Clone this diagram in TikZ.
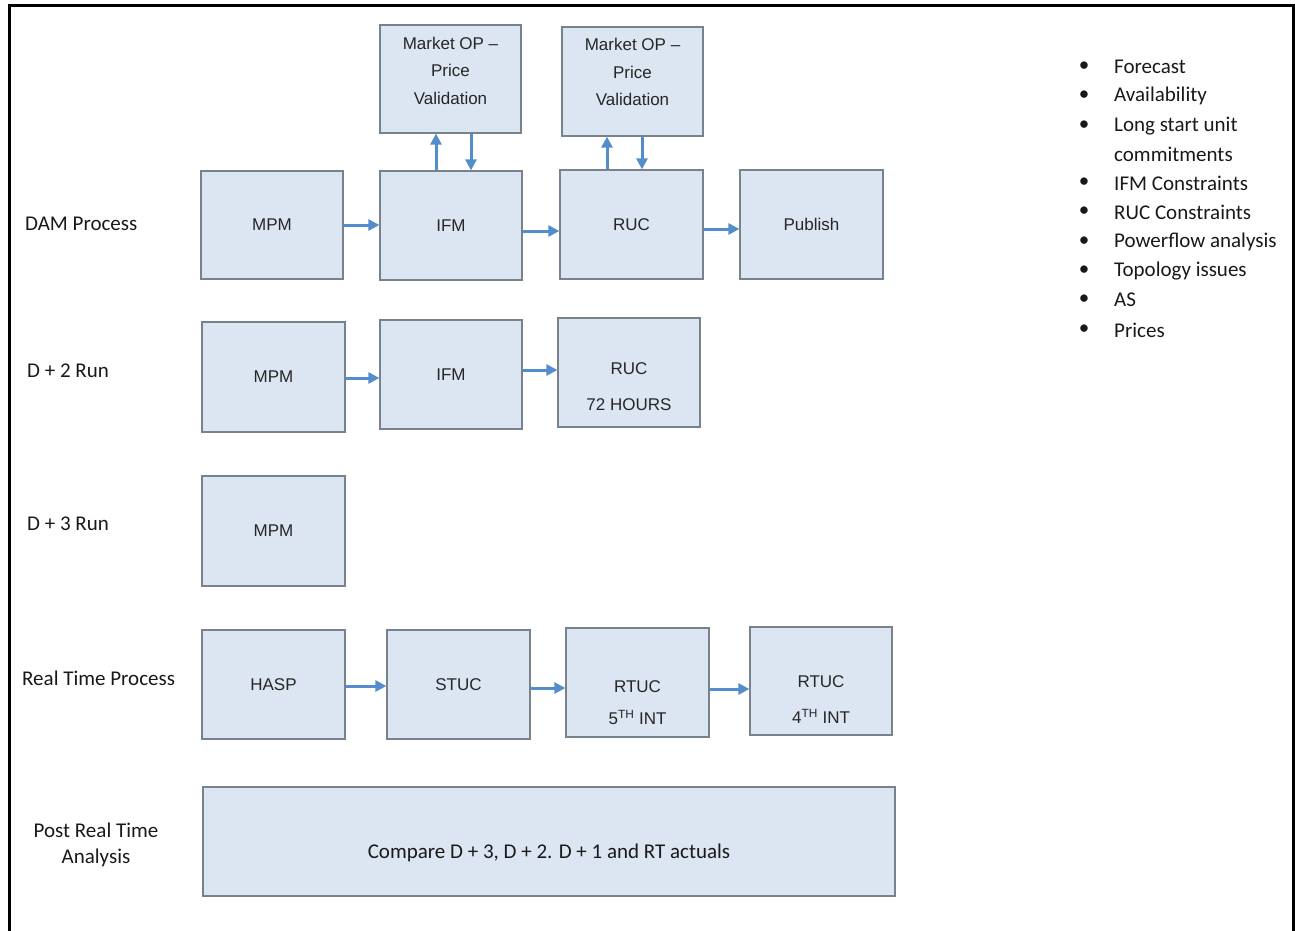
\documentclass[tikz,border=0pt]{standalone}
\usepackage{fontspec}
\setmainfont{Liberation Sans}
\newfontfamily\calfont{Carlito}
\usetikzlibrary{arrows.meta}
\definecolor{boxfill}{RGB}{220,230,242}
\definecolor{boxline}{RGB}{120,130,140}
\definecolor{arrowblue}{RGB}{84,141,204}
\tikzset{
  box/.style={draw=boxline, fill=boxfill, line width=1.2pt, minimum width=142pt, minimum height=109pt, inner sep=0pt, font=\fontsize{17}{20}\selectfont, text=black!85},
  boxtext/.style={inner sep=0pt, align=center, font=\fontsize{17}{20}\selectfont, text=black!85},
  arr/.style={draw=arrowblue, line width=3pt, -{Triangle[length=11pt,width=11pt]}},
  lab/.style={inner sep=0pt, anchor=west, font=\calfont\fontsize{21}{26}\selectfont, text=black!90},
  blt/.style={inner sep=0pt, anchor=west, font=\calfont\fontsize{21}{26}\selectfont, text=black!90},
}
\begin{document}
\begin{tikzpicture}[x=1pt,y=-1pt]
\useasboundingbox (0,0) rectangle (1295,931);
% frame
\draw[line width=3pt, black] (9,935) -- (9,6) -- (1293,6) -- (1293,935);

% DAM row
\node[box, minimum width=141pt, minimum height=108pt] (mop1) at (450.5,79) {};
\node[boxtext, font=\fontsize{17}{27.5}\selectfont] (mop1t) at (450.5,70.5) {Market OP --\\Price\\Validation};
\node[box, minimum width=141pt] (mop2) at (632.5,81.5) {};
\node[boxtext, font=\fontsize{17}{27.5}\selectfont] (mop2t) at (632.5,72) {Market OP --\\Price\\Validation};

\node[box, minimum height=108pt] (dmpm) at (272,225) {MPM};
\node[box] (difm) at (451,225.5) {IFM};
\node[box, minimum width=143pt] (druc) at (631.5,224.5) {RUC};
\node[box, minimum width=143pt] (pub) at (811.5,224.5) {Publish};

% D+2 row
\node[box, minimum width=143pt, minimum height=110pt] (mpm2) at (273.5,377) {MPM};
\node[box] (ifm2) at (451,374.5) {IFM};
\node[box] (ruc2) at (629,372.5) {};
\node[boxtext, font=\fontsize{17}{36}\selectfont] (ruc2t) at (629,387) {RUC\\72 HOURS};

% D+3 row
\node[box, minimum width=143pt, minimum height=110pt] (mpm3) at (273.5,531) {MPM};

% Real time row
\node[box, minimum width=143pt] (hasp) at (273.5,684.5) {HASP};
\node[box, minimum width=143pt] (stuc) at (458.5,684.5) {STUC};
\node[box, minimum width=143pt] (rtuc5) at (637.5,682.5) {};
\node[boxtext, font=\fontsize{17}{32}\selectfont] (rtuc5t) at (637.5,703) {RTUC\\5\textsuperscript{TH} INT};
\node[box, minimum height=108pt] (rtuc4) at (821,681) {};
\node[boxtext, font=\fontsize{17}{36}\selectfont] (rtuc4t) at (821,700) {RTUC\\4\textsuperscript{TH} INT};

% Post real time
\node[box, minimum width=692pt] (post) at (549,841.5) {};
\node[inner sep=0pt, font=\calfont\fontsize{21}{26}\selectfont, text=black!90] (postt) at (549,853) {Compare D + 3, D + 2. D + 1 and RT actuals};

% arrows DAM
\draw[arr] (dmpm.east) -- (dmpm.east -| difm.west);
\draw[arr] ([yshift=-5.5pt]difm.east) -- ([yshift=-5.5pt]difm.east -| druc.west);
\draw[arr] ([yshift=-4.5pt]druc.east) -- ([yshift=-4.5pt]druc.east -| pub.west);
\draw[arr] ([xshift=-15pt]difm.north) -- ([xshift=-15pt]difm.north |- mop1.south);
\draw[arr] ([xshift=20pt]difm.north |- mop1.south) -- ([xshift=20pt]difm.north);
\draw[arr] ([xshift=-24.5pt]druc.north) -- ([xshift=-24.5pt]druc.north |- mop2.south);
\draw[arr] ([xshift=10.5pt]druc.north |- mop2.south) -- ([xshift=10.5pt]druc.north);

% arrows D+2
\draw[arr] ([yshift=-1pt]mpm2.east) -- ([yshift=-1pt]mpm2.east -| ifm2.west);
\draw[arr] ([yshift=4.5pt]ifm2.east) -- ([yshift=4.5pt]ifm2.east -| ruc2.west);

% arrows RT
\draw[arr] ([yshift=-1.5pt]hasp.east) -- ([yshift=-1.5pt]hasp.east -| stuc.west);
\draw[arr] ([yshift=-3.5pt]stuc.east) -- ([yshift=-3.5pt]stuc.east -| rtuc5.west);
\draw[arr] ([yshift=-6.5pt]rtuc5.east) -- ([yshift=-6.5pt]rtuc5.east -| rtuc4.west);

% row labels
\node[lab] (l1) at (25,224) {DAM Process};
\node[lab] (l2) at (27,371) {D + 2 Run};
\node[lab] (l3) at (27,524) {D + 3 Run};
\node[lab] (l4) at (22,678) {Real Time Process};
\node[lab, anchor=center, align=center] (l5) at (96,845) {Post Real Time\\Analysis};

% bullet list
\foreach \yy/\txt/\b [count=\i] in {67/Forecast/1, 96/Availability/1, 126/Long start unit/1, 154/commitments/0, 183/IFM Constraints/1, 212/RUC Constraints/1, 242/Powerflow analysis/1, 271/Topology issues/1, 300/AS/1, 330/Prices/1}{
  \node[blt] (bt\i) at (1114,\yy) {\txt};
  \ifnum\b=1 \node[blt, anchor=center] (bb\i) at (1084,\yy) {\textbullet}; \fi
}
\end{tikzpicture}
\end{document}
